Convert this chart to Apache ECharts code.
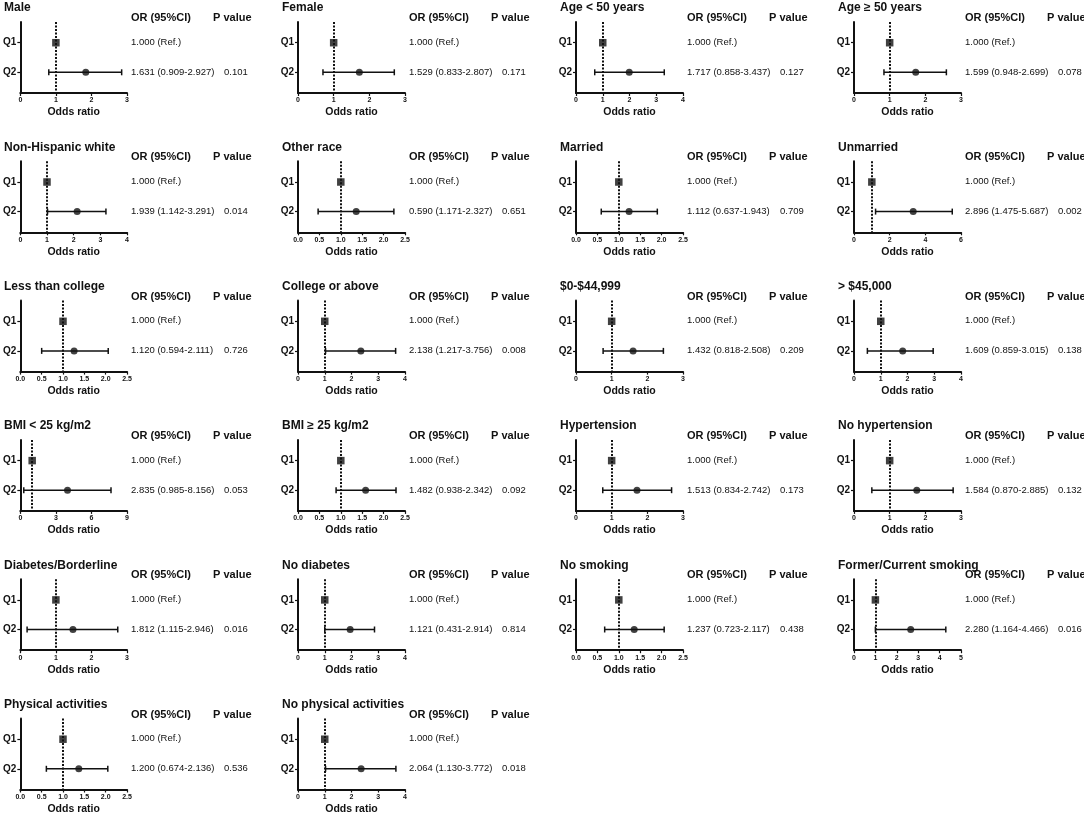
<!DOCTYPE html>
<html>
<head>
<meta charset="utf-8">
<script src="https://cdn.jsdelivr.net/npm/echarts@6/dist/echarts.min.js"></script>
<style>
html,body{margin:0;padding:0;background:#fff;}
#chart{width:1084px;height:816px;}
</style>
</head>
<body>
<div id="chart"></div>
<script>
// ---- data ----
const panelTitles = ['Male','Female','Age < 50 years','Age \u2265 50 years',
  'Non-Hispanic white','Other race','Married','Unmarried',
  'Less than college','College or above','$0-$44,999','> $45,000',
  'BMI < 25 kg/m2','BMI \u2265 25 kg/m2','Hypertension','No hypertension',
  'Diabetes/Borderline','No diabetes','No smoking','Former/Current smoking',
  'Physical activities','No physical activities'];
const groupLabels = ['Q1','Q2'];
const refValue = 1;
// drawn Q2 point and whiskers
const q2Point = [1.84,1.72,1.99,1.73, 2.13,1.36,1.24,3.32, 1.26,2.35,1.60,1.82, 3.98,1.58,1.71,1.76, 1.48,1.95,1.36,2.65, 1.37,2.36];
const q2Low   = [0.80,0.70,0.70,0.84, 1.02,0.47,0.59,1.21, 0.50,1.03,0.76,0.50, 0.29,0.89,0.75,0.50, 0.19,1.00,0.67,1.00, 0.61,1.03];
const q2High  = [2.85,2.70,3.30,2.59, 3.21,2.24,1.90,5.51, 2.06,3.65,2.45,2.96, 7.65,2.29,2.68,2.78, 2.74,2.86,2.06,4.29, 2.05,3.66];
const axisMax  = [3,3,4,3, 4,2.5,2.5,6, 2.5,4,3,4, 9,2.5,3,3, 3,4,2.5,5, 2.5,4];
const axisStep = [1,1,1,1, 1,0.5,0.5,2, 0.5,1,1,1, 3,0.5,1,1, 1,1,0.5,1, 0.5,1];
const orText = ['1.631 (0.909-2.927)','1.529 (0.833-2.807)','1.717 (0.858-3.437)','1.599 (0.948-2.699)',
  '1.939 (1.142-3.291)','0.590 (1.171-2.327)','1.112 (0.637-1.943)','2.896 (1.475-5.687)',
  '1.120 (0.594-2.111)','2.138 (1.217-3.756)','1.432 (0.818-2.508)','1.609 (0.859-3.015)',
  '2.835 (0.985-8.156)','1.482 (0.938-2.342)','1.513 (0.834-2.742)','1.584 (0.870-2.885)',
  '1.812 (1.115-2.946)','1.121 (0.431-2.914)','1.237 (0.723-2.117)','2.280 (1.164-4.466)',
  '1.200 (0.674-2.136)','2.064 (1.130-3.772)'];
const pText = ['0.101','0.171','0.127','0.078','0.014','0.651','0.709','0.002','0.726','0.008','0.209','0.138',
  '0.053','0.092','0.173','0.132','0.016','0.814','0.438','0.016','0.536','0.018'];
const refText = '1.000 (Ref.)';
const headerOR = 'OR (95%CI)';
const headerP = 'P value';
const xName = 'Odds ratio';

// ---- layout ----
const FF = '"Liberation Sans", Arial, Helvetica, sans-serif';
const INK = '#111';
const grid = [], xAxis = [], yAxis = [], series = [], graphic = [];

panelTitles.forEach(function (t, i) {
  const r = Math.floor(i / 4), c = i % 4;
  const x0 = 20 + 278 * c;
  const q1y = 42 + 139.3 * r;
  const step = axisStep[i];
  grid.push({left: x0, top: q1y - 20, width: 107, height: 71});
  xAxis.push({
    gridIndex: i, type: 'value', min: 0, max: axisMax[i], interval: step,
    axisLine: {show: true, onZero: false, lineStyle: {color: INK, width: 2}},
    axisTick: {show: true, inside: false, length: 3, lineStyle: {color: INK, width: 1.2}},
    axisLabel: {fontSize: 7, fontWeight: 'bold', color: INK, margin: 4, fontFamily: FF,
      showMinLabel: true, showMaxLabel: true,
      formatter: function (v) { return step < 1 ? v.toFixed(1) : String(v); }},
    splitLine: {show: false},
    name: xName, nameLocation: 'middle', nameGap: 14,
    nameTextStyle: {fontSize: 10.5, fontWeight: 'bold', color: INK, fontFamily: FF}
  });
  yAxis.push({
    gridIndex: i, type: 'value', min: 0.3, max: 2.7, inverse: true,
    axisLine: {show: true, onZero: false, lineStyle: {color: INK, width: 2}},
    axisTick: {show: true, length: 3, customValues: [1, 2], lineStyle: {color: INK, width: 1.2}},
    axisLabel: {customValues: [1, 2], fontSize: 10, fontWeight: 'bold', color: INK, margin: 4, fontFamily: FF,
      formatter: function (v) { return groupLabels[Math.round(v) - 1] || ''; }},
    splitLine: {show: false}
  });
  // error bar
  series.push({
    type: 'custom', xAxisIndex: i, yAxisIndex: i, z: 3, silent: true,
    data: [[q2Low[i], q2High[i], 2]],
    renderItem: function (params, api) {
      const a = api.coord([api.value(0), api.value(2)]);
      const b = api.coord([api.value(1), api.value(2)]);
      const st = {stroke: INK, lineWidth: 1.5};
      return {type: 'group', children: [
        {type: 'line', shape: {x1: a[0], y1: a[1], x2: b[0], y2: b[1]}, style: st},
        {type: 'line', shape: {x1: a[0], y1: a[1] - 3, x2: a[0], y2: a[1] + 3}, style: st},
        {type: 'line', shape: {x1: b[0], y1: b[1] - 3, x2: b[0], y2: b[1] + 3}, style: st}
      ]};
    }
  });
  // points + reference line
  series.push({
    type: 'scatter', xAxisIndex: i, yAxisIndex: i, z: 4, silent: true,
    itemStyle: {color: INK},
    data: [
      {value: [refValue, 1], symbol: 'rect', symbolSize: 7.5},
      {value: [q2Point[i], 2], symbol: 'circle', symbolSize: 7}
    ],
    markLine: {
      silent: true, symbol: ['none', 'none'], label: {show: false},
      lineStyle: {color: INK, width: 2, type: [2, 1.5]},
      data: [{xAxis: refValue}]
    }
  });
  // texts
  const txt = function (s, x, y, font) {
    graphic.push({type: 'text', x: x, y: y, silent: true,
      style: {text: s, font: font, fill: INK, align: 'left', verticalAlign: 'middle'}});
  };
  txt(t, x0 - 16, q1y - 34, 'bold 12px ' + FF);
  txt(headerOR, x0 + 111, q1y - 24, 'bold 11px ' + FF);
  txt(headerP, x0 + 193, q1y - 24, 'bold 11px ' + FF);
  txt(refText, x0 + 111, q1y, '9.5px ' + FF);
  txt(orText[i], x0 + 111, q1y + 30, '9.5px ' + FF);
  txt(pText[i], x0 + 204, q1y + 30, '9.5px ' + FF);
});

const chart = echarts.init(document.getElementById('chart'), null, {renderer: 'canvas'});
chart.setOption({
  animation: false,
  backgroundColor: '#fff',
  grid: grid, xAxis: xAxis, yAxis: yAxis, series: series, graphic: graphic
});
</script>
</body>
</html>
